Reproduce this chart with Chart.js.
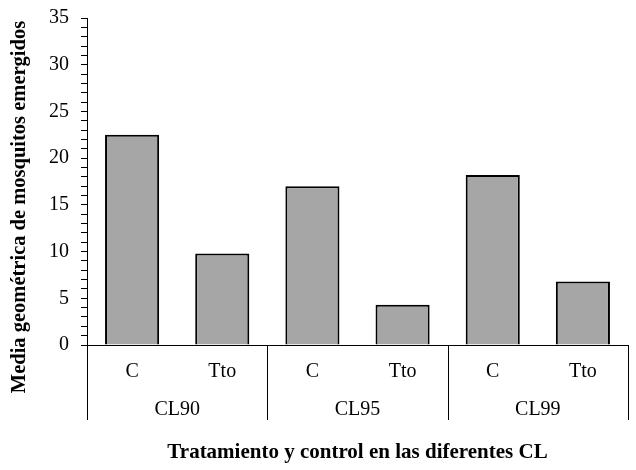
<!DOCTYPE html>
<html>
<head>
<meta charset="utf-8">
<script src="https://cdn.jsdelivr.net/npm/chart.js@4"></script>
<style>
html,body{margin:0;padding:0;background:#fff;}
#wrap{width:636px;height:470px;}
</style>
</head>
<body>
<div id="wrap"><canvas id="c" width="636" height="470"></canvas></div>
<script>
const categories = ['C','Tto','C','Tto','C','Tto'];
const groups = ['CL90','CL95','CL99'];
const values = [22.5, 9.8, 17.0, 4.3, 18.2, 6.8];
const yTicks = [0,5,10,15,20,25,30,35];
const yTitle = 'Media geométrica de mosquitos emergidos';
const xTitle = 'Tratamiento y control en las diferentes CL';

const serif = '"Liberation Serif", "Times New Roman", serif';

const extras = {
  id: 'extras',
  afterDraw(chart) {
    const ctx = chart.ctx;
    const x = chart.scales.x, x2 = chart.scales.x2;
    const area = chart.chartArea;
    ctx.save();
    ctx.strokeStyle = '#000';
    ctx.lineWidth = 1;
    const n = categories.length;
    const step = (x.getPixelForValue(1) - x.getPixelForValue(0));
    for (let i = 0; i <= n; i += 2) {
      const px = Math.round(x.getPixelForValue(i) - step / 2) + 0.5;
      ctx.beginPath();
      ctx.moveTo(px, area.bottom);
      ctx.lineTo(px, x2.top + 35);
      ctx.stroke();
    }
    // y title
    ctx.fillStyle = '#000';
    ctx.font = 'bold 20.5px ' + serif;
    ctx.textAlign = 'center';
    ctx.textBaseline = 'middle';
    ctx.translate(20, (area.top + x2.top + 35) / 2 - 12);
    ctx.rotate(-Math.PI / 2);
    ctx.fillText(yTitle, 0, 0);
    ctx.restore();
  }
};

new Chart(document.getElementById('c'), {
  type: 'bar',
  data: {
    labels: categories,
    datasets: [{
      data: values,
      backgroundColor: '#a6a6a6',
      borderColor: '#000',
      borderWidth: 2,
      barPercentage: 0.6,
      categoryPercentage: 1.0,
      xAxisID: 'x',
      yAxisID: 'y'
    }]
  },
  options: {
    responsive: false,
    animation: false,
    layout: { padding: { top: 18, right: 8, bottom: 5, left: 0 } },
    plugins: { legend: { display: false }, tooltip: { enabled: false } },
    scales: {
      y: {
        min: 0, max: 35,
        afterFit(s) { s.width = 87; s.paddingTop = 0; s.paddingBottom = 0; },
        border: { display: true, color: '#000', width: 1 },
        grid: { display: true, drawOnChartArea: false, drawTicks: true, tickLength: 6, color: '#000' },
        ticks: {
          stepSize: 1, autoSkip: false, padding: 12, color: '#000',
          font: { family: serif, size: 20 },
          callback: (v) => yTicks.includes(v) ? String(v) : ''
        }
      },
      x: {
        type: 'category',
        position: 'bottom',
        weight: 0,
        afterFit(s) { s.height = 40; },
        border: { display: true, color: '#000', width: 1 },
        grid: { display: false, drawTicks: false },
        ticks: { padding: 15, color: '#000', font: { family: serif, size: 20 }, maxRotation: 0, autoSkip: false }
      },
      x2: {
        type: 'category',
        position: 'bottom',
        weight: 1,
        labels: groups,
        offset: true,
        afterFit(s) { s.height = 80; },
        border: { display: false },
        grid: { display: false, drawTicks: false },
        ticks: { padding: 13, color: '#000', font: { family: serif, size: 20 }, maxRotation: 0, autoSkip: false },
        title: { display: true, text: xTitle, color: '#000', font: { family: serif, size: 21, weight: 'bold' }, padding: { top: 0, bottom: 0 } }
      }
    }
  },
  plugins: [extras]
});
</script>
</body>
</html>
